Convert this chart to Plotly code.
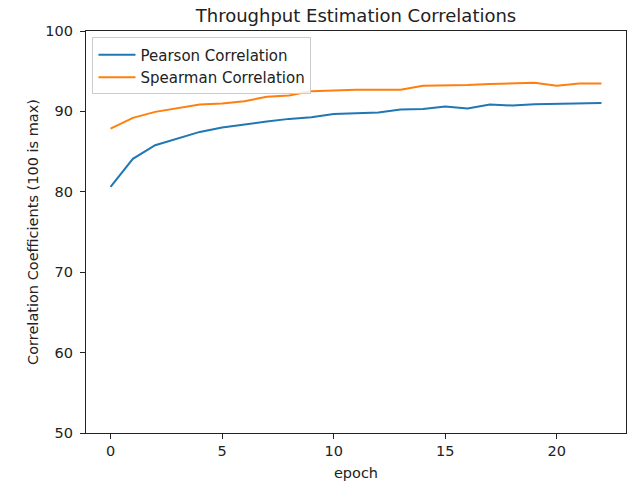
import plotly.graph_objects as go

epochs = list(range(23))
pearson = [80.6, 84.1, 85.8, 86.6, 87.45, 88.0, 88.4, 88.74, 89.07, 89.28, 89.69, 89.74,
           89.86, 90.23, 90.31, 90.6, 90.36, 90.86, 90.73, 90.9, 90.98, 91.02, 91.06]
spearman = [87.86, 89.2, 89.94, 90.36, 90.86, 90.98, 91.27, 91.81, 91.98, 92.52, 92.64, 92.68,
            92.7, 92.7, 93.2, 93.2, 93.27, 93.4, 93.44, 93.56, 93.18, 93.48, 93.48]
x_ticks = [0, 5, 10, 15, 20]
y_ticks = [50, 60, 70, 80, 90, 100]

FONT = "DejaVu Sans"
TXT = 14.5

fig = go.Figure()
fig.add_trace(go.Scatter(x=epochs, y=pearson, mode="lines", name="Pearson Correlation",
                         legendgroup="p", line=dict(color="#1f77b4", width=2)))
fig.add_trace(go.Scatter(x=epochs, y=spearman, mode="lines", name="Spearman Correlation",
                         legendgroup="s", line=dict(color="#ff7f0e", width=2)))

axis_common = dict(
    showgrid=False, zeroline=False, showline=True, linecolor="#222222", linewidth=1.1,
    mirror=True, ticks="outside", ticklen=5, tickwidth=1.1, tickcolor="#222222",
    tickfont=dict(family=FONT, size=TXT, color="#222222"), automargin=False,
)

fig.update_layout(
    width=639, height=481,
    margin=dict(l=86, r=13, t=31, b=48),
    paper_bgcolor="white", plot_bgcolor="white",
    font=dict(family=FONT, color="#222222"),
    title=dict(text="Throughput Estimation Correlations", xref="paper", x=0.5, xanchor="center",
               yref="container", y=0.967, yanchor="middle",
               font=dict(family=FONT, size=18, color="#222222")),
    xaxis=dict(range=[-1.1, 23.1], tickvals=x_ticks,
               title=dict(text="epoch", font=dict(family=FONT, size=TXT)),
               **axis_common),
    yaxis=dict(range=[50, 100], tickvals=y_ticks, ticklabelstandoff=4,
               title=dict(text="Correlation Coefficients (100 is max)",
                          font=dict(family=FONT, size=TXT), standoff=3),
               **axis_common),
    legend=dict(x=0.012, y=0.984, xanchor="left", yanchor="top",
                bgcolor="rgba(255,255,255,0.8)", bordercolor="#cccccc", borderwidth=1,
                font=dict(family=FONT, size=15, color="#222222"),
                itemwidth=37, tracegroupgap=0),
    showlegend=True,
)

fig.write_html("out.html")
